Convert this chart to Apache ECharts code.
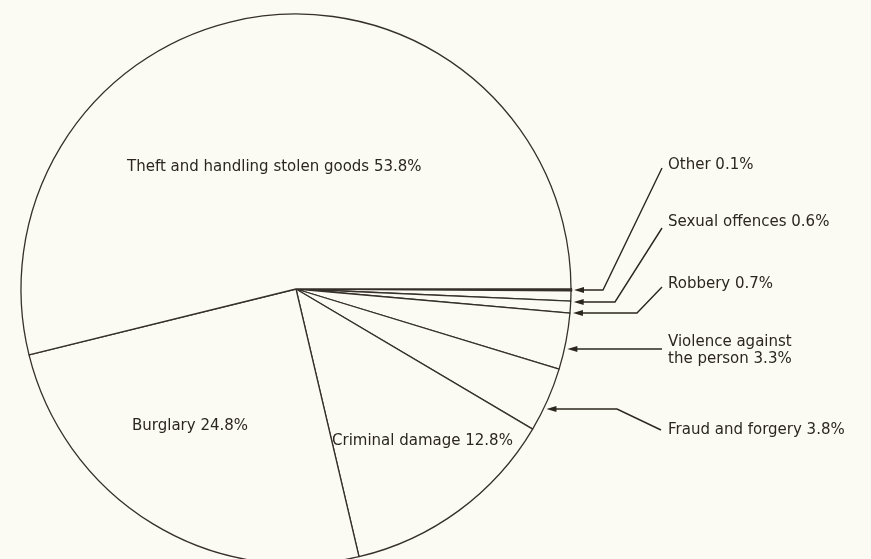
<!DOCTYPE html>
<html>
<head>
<meta charset="utf-8">
<script src="https://cdn.jsdelivr.net/npm/echarts@6/dist/echarts.min.js"></script>
<style>
  html, body { margin: 0; padding: 0; background: #fcfbf3; }
  #main { width: 871px; height: 559px; }
</style>
</head>
<body>
<div id="main"></div>
<script>
// Offences, clockwise from 3 o'clock
const categories = [
    'Other',
    'Sexual offences',
    'Robbery',
    'Violence against\nthe person',
    'Fraud and forgery',
    'Criminal damage',
    'Burglary',
    'Theft and handling stolen goods'
];
const shares = [0.1, 0.6, 0.7, 3.3, 3.8, 12.8, 24.8, 53.8];

// where each label sits (left edge, vertical middle)
const labelPos = [
    [668, 165], [668, 222], [668, 284], [668, 351], [668, 430],
    [332, 441], [132, 426], [127, 167]
];

// leader arrows for the thin slices: rim height, elbow x, end of leader
const arrows = [
    { y: 290, elbow: 603, end: [662, 168] },
    { y: 302, elbow: 615, end: [662, 228] },
    { y: 313, elbow: 637, end: [662, 287] },
    { y: 349, elbow: 662, end: [662, 349] },
    { y: 409, elbow: 617, end: [661, 430] }
];

const CX = 296, CY = 289, R = 275;
const ink = '#2b271f';

const chartDom = document.getElementById('main');
const myChart = echarts.init(chartDom);

// arrows pointing at the rim
const graphics = [];
arrows.forEach(a => {
    const tipX = CX + Math.sqrt(R * R - (a.y - CY) * (a.y - CY)) + 3;
    graphics.push({
        type: 'polyline',
        shape: { points: [[tipX + 6, a.y], [a.elbow, a.y], a.end] },
        style: { stroke: ink, lineWidth: 1.4, fill: null }
    });
    graphics.push({
        type: 'polygon',
        shape: { points: [[tipX, a.y], [tipX + 10, a.y - 3], [tipX + 10, a.y + 3]] },
        style: { fill: ink }
    });
});

const option = {
    backgroundColor: '#fcfbf3',
    animation: false,
    graphic: graphics,
    series: [
        {
            type: 'pie',
            center: [CX, CY],
            radius: R,
            startAngle: 0,
            clockwise: true,
            silent: true,
            data: categories.map((name, i) => ({
                name: name,
                value: shares[i],
                // the tiny "Other" wedge is printed solid
                itemStyle: i === 0 ? { color: '#3a3124', borderWidth: 2.6, borderColor: '#3a3124' } : undefined
            })),
            itemStyle: {
                color: '#fcfbf3',
                borderColor: '#35312a',
                borderWidth: 1.3
            },
            label: {
                show: true,
                position: 'inside',
                formatter: p => p.name + ' ' + p.value + '%',
                color: ink,
                fontFamily: 'DejaVu Sans',
                fontSize: 15,
                lineHeight: 17
            },
            labelLine: { show: false },
            labelLayout: p => ({
                x: labelPos[p.dataIndex][0],
                y: labelPos[p.dataIndex][1],
                align: 'left',
                verticalAlign: 'middle'
            })
        }
    ]
};

myChart.setOption(option);
</script>
</body>
</html>
